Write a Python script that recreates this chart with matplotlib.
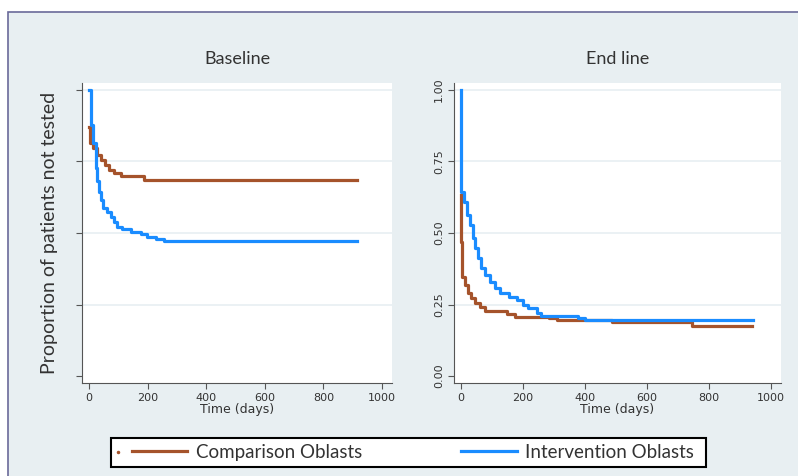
"""Kaplan-Meier style curves: proportion of patients not tested, baseline vs end line."""

import matplotlib.pyplot as plt
from matplotlib.patches import Rectangle
from matplotlib.lines import Line2D

plt.rcParams['font.family'] = ['Lato', 'DejaVu Sans']

# Baseline panel (days, proportion)
base_comp_t = [0, 3, 15, 26, 40, 54, 69, 85, 108, 188, 913]
base_comp_s = [0.872, 0.813, 0.796, 0.773, 0.755, 0.738, 0.72, 0.709, 0.70, 0.685, 0.685]
base_int_t = [0, 8, 15, 23, 28, 34, 40, 49, 62, 74, 85, 97, 114, 142, 176, 199, 228,
              256, 913]
base_int_s = [1.0, 0.878, 0.813, 0.726, 0.68, 0.644, 0.615, 0.586, 0.574, 0.557, 0.54,
              0.522, 0.514, 0.505, 0.497, 0.487, 0.479, 0.472, 0.472]

# End line panel
end_comp_t = [0, 1, 4, 13, 21, 32, 45, 61, 77, 147, 174, 282, 309, 486, 744, 938]
end_comp_s = [0.633, 0.47, 0.347, 0.318, 0.289, 0.272, 0.254, 0.242, 0.227, 0.216,
              0.207, 0.202, 0.196, 0.19, 0.175, 0.175]
end_int_t = [0, 1, 8, 18, 29, 37, 45, 56, 64, 77, 94, 110, 126, 153, 180, 201, 217,
             244, 257, 378, 400, 943]
end_int_s = [1.0, 0.644, 0.61, 0.563, 0.528, 0.481, 0.446, 0.411, 0.377, 0.353, 0.33,
             0.307, 0.289, 0.277, 0.266, 0.248, 0.237, 0.222, 0.21, 0.202, 0.196, 0.196]

y_ticks = [0, 0.25, 0.5, 0.75, 1.0]
y_labels = ["0.00", "0.25", "0.50", "0.75", "1.00"]
x_ticks = [0, 200, 400, 600, 800, 1000]
series_names = ['Comparison Oblasts', 'Intervention Oblasts']

brown = '#a5532b'
blue = '#1a8cff'
bg = '#e8eff2'
axis_col = '#555555'
txt = '#333333'

fig = plt.figure(figsize=(7.98, 4.76), dpi=100)
fig.patch.set_facecolor('white')

# outer panel frame (cropped at right/bottom)
fig.patches.append(Rectangle((8 / 798, -0.05), 1.05, (476 - 12) / 476 + 0.05,
                             transform=fig.transFigure, facecolor=bg,
                             edgecolor='#6a6a9a', linewidth=1.2, zorder=-5))

ax1 = fig.add_axes([82 / 798, 93 / 476, 310 / 798, 300 / 476])
ax2 = fig.add_axes([454 / 798, 93 / 476, 327 / 798, 300 / 476])

ax1.step(base_comp_t, base_comp_s, where='post', color=brown, linewidth=2.3)
ax1.step(base_int_t, base_int_s, where='post', color=blue, linewidth=2.3)
ax2.step(end_comp_t, end_comp_s, where='post', color=brown, linewidth=2.3)
ax2.step(end_int_t, end_int_s, where='post', color=blue, linewidth=2.3)

for ax, title in [(ax1, 'Baseline'), (ax2, 'End line')]:
    ax.set_facecolor('white')
    ax.set_xticks(x_ticks)
    ax.set_yticks(y_ticks)
    ax.set_ylim(-0.024, 1.024)
    ax.set_title(title, fontsize=13, color=txt, pad=14)
    ax.set_xlabel('Time (days)', fontsize=9, color=txt, labelpad=0.5,
                  family='DejaVu Sans')
    ax.tick_params(axis='both', direction='out', length=4, width=0.8,
                   colors=axis_col, labelsize=8, labelcolor=txt,
                   labelfontfamily='DejaVu Sans', pad=3)
    for y in y_ticks[1:]:
        ax.axhline(y, color=bg, linewidth=1.2, zorder=0)
    ax.spines['top'].set_visible(False)
    ax.spines['right'].set_visible(False)
    ax.spines['left'].set_color(axis_col)
    ax.spines['bottom'].set_color(axis_col)

ax1.set_xlim(-24, 1034)
ax2.set_xlim(-23, 1032)
ax1.set_yticklabels([])
ax1.set_ylabel('Proportion of patients not tested', fontsize=14, color=txt,
               labelpad=10)
ax2.set_yticklabels(y_labels, rotation=90, va='center')

# legend: box drawn separately, keys placed inside
fig.patches.append(Rectangle((111 / 798, 9 / 476), 595 / 798, 29 / 476,
                             transform=fig.transFigure, facecolor='white',
                             edgecolor='black', linewidth=1.5, zorder=1))
fig.add_artist(Line2D([118 / 798], [24 / 476], marker='o', markersize=1.5,
                      color=brown, linestyle='none', transform=fig.transFigure))
handles = [Line2D([], [], color=brown, linewidth=2.3),
           Line2D([], [], color=blue, linewidth=2.3)]
leg = fig.legend(handles, series_names, loc='center left',
                 bbox_to_anchor=(132 / 798, 23.5 / 476), ncol=2, fontsize=13.5,
                 frameon=False, handlelength=2.95, handletextpad=0.45,
                 columnspacing=5.3, borderaxespad=0, borderpad=0)
leg.set_zorder(2)
for t in leg.get_texts():
    t.set_color(txt)

fig.savefig('out.png', dpi=100, facecolor=fig.get_facecolor())
